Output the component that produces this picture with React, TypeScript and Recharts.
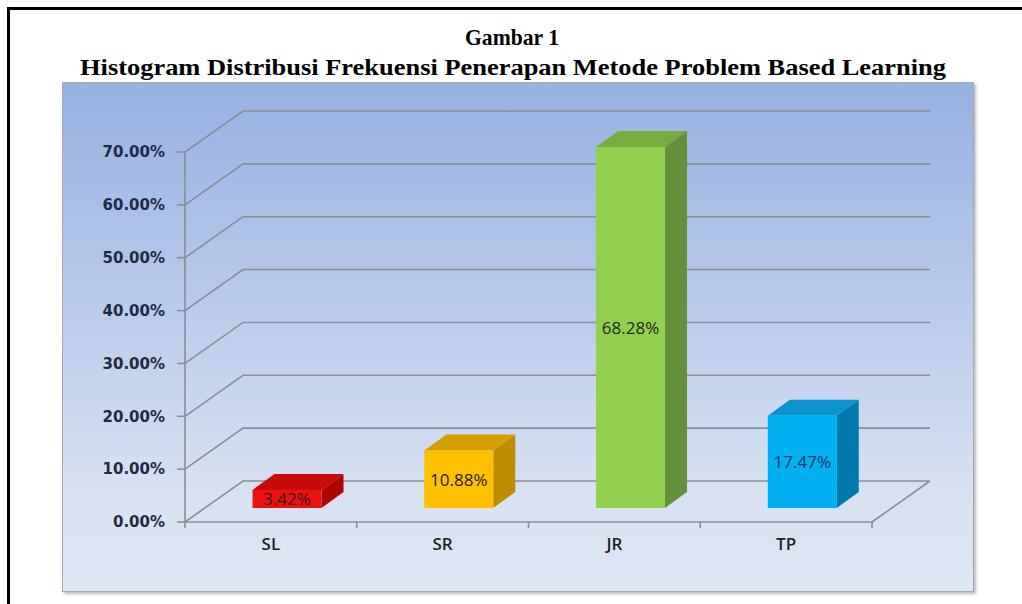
import { Bar, BarChart, CartesianGrid, LabelList, XAxis, YAxis } from "recharts";

const categories = ["SL", "SR", "JR", "TP"];
const percentages = [3.42, 10.88, 68.28, 17.47];
const yTicks = [0, 10, 20, 30, 40, 50, 60, 70];

const titleLine1 = "Gambar 1";
const titleLine2 = "Histogram Distribusi Frekuensi Penerapan Metode Problem Based Learning";

const data = categories.map((cat, i) => ({ cat, value: percentages[i] }));

// 3d look
const WALL_DX = 58;
const WALL_DY = -41;
const BAR_SHIFT_X = 16;
const BAR_SHIFT_Y = -14;
const BAR_DX = 22;
const BAR_DY = -16;

const frontColors = ["#E8130F", "#FFC000", "#92D050", "#00B0F0"];
const topColors = ["#C80A0A", "#D4A000", "#78AC40", "#0A93CC"];
const sideColors = ["#B00404", "#BE8E00", "#64913A", "#0079AC"];
const labelColors = ["#4a0c0c", "#1f1f1f", "#1f2a1a", "#1F3864"];

const GRID = "#8C8E94";

function Bar3D(props: any) {
    const { x, y, width: w, height: h, index } = props;
    if (w == null || h == null) return null;
    const fx = x + BAR_SHIFT_X;
    const fy = y + BAR_SHIFT_Y;
    return (
        <g>
            <polygon
                points={`${fx},${fy} ${fx + BAR_DX},${fy + BAR_DY} ${fx + w + BAR_DX},${fy + BAR_DY} ${fx + w},${fy}`}
                fill={topColors[index]} />
            <polygon
                points={`${fx + w},${fy} ${fx + w + BAR_DX},${fy + BAR_DY} ${fx + w + BAR_DX},${fy + h + BAR_DY} ${fx + w},${fy + h}`}
                fill={sideColors[index]} />
            <rect x={fx} y={fy} width={w} height={h} fill={frontColors[index]} />
        </g>
    );
}

function BarLabel(props: any) {
    const { x, y, width, height, value, index } = props;
    return (
        <text
            x={x + width / 2 + BAR_SHIFT_X}
            y={y + height / 2 + BAR_SHIFT_Y}
            textAnchor="middle"
            dominantBaseline="central"
            fontFamily="'Open Sans', sans-serif"
            fontSize={17}
            fill={labelColors[index]}>
            {value.toFixed(2)}%
        </text>
    );
}

function WallLine(props: any) {
    const { x1, y1, x2, index } = props;
    const bottom = props.y != null && props.height != null ? props.y + props.height : null;
    const isFloor = bottom != null ? Math.abs(y1 - bottom) < 1 : index === 0;
    let d = `M${x1},${y1} L${x1 + WALL_DX},${y1 + WALL_DY} L${x2 + WALL_DX},${y1 + WALL_DY}`;
    if (isFloor) d += ` M${x2},${y1} L${x2 + WALL_DX},${y1 + WALL_DY}`;
    return <path key={`wall-${index}`} d={d} fill="none" stroke={GRID} strokeWidth={1.6} />;
}

function CategoryTick(props: any) {
    const { x, y, payload, index } = props;
    const half = payload.offset || 0;
    const axisY = y - 18;
    return (
        <g>
            <text
                x={x}
                y={y - 2}
                dy="0.71em"
                textAnchor="middle"
                fontFamily="'Open Sans', sans-serif"
                fontWeight={600}
                fontSize={17}
                fill="#1f1f1f">
                {payload.value}
            </text>
            {index === 0 && (
                <line x1={x - half} x2={x - half} y1={axisY} y2={axisY + 6} stroke={GRID} strokeWidth={1.6} />
            )}
            <line x1={x + half} x2={x + half} y1={axisY} y2={axisY + 6} stroke={GRID} strokeWidth={1.6} />
        </g>
    );
}

export default function App() {
    return (
        <div style={{ position: "absolute", left: 0, top: 0, width: 1022, height: 604, background: "#fff", overflow: "hidden" }}>
            <div style={{ position: "absolute", left: 7, top: 7, width: 1015, height: 3, background: "#000" }} />
            <div style={{ position: "absolute", left: 7, top: 7, width: 3, height: 597, background: "#000" }} />
            <div style={{
                position: "absolute", left: 62, top: 82, width: 910, height: 508,
                border: "1px solid #a4a8b0",
                background: "linear-gradient(to bottom, #96B2E1 0%, #BACBEB 45%, #D8E1F2 80%, #DFE6F4 100%)",
                boxShadow: "2px 2px 3px rgba(0,0,0,0.28)"
            }} />
            <svg width={1022} height={100} style={{ position: "absolute", left: 0, top: 0 }}>
                <text x={512} y={45} textAnchor="middle" fontFamily="'Liberation Serif', serif" fontWeight="bold" fontSize={23}
                    textLength={94} lengthAdjust="spacingAndGlyphs" fill="#000">
                    {titleLine1}
                </text>
                <text x={513} y={75} textAnchor="middle" fontFamily="'Liberation Serif', serif" fontWeight="bold" fontSize={23.5}
                    textLength={866} lengthAdjust="spacingAndGlyphs" fill="#000">
                    {titleLine2}
                </text>
            </svg>
            <div style={{ position: "absolute", left: 0, top: 0 }}>
                <BarChart
                    width={1022}
                    height={604}
                    data={data}
                    margin={{ top: 152, right: 150, bottom: 52, left: 105 }}
                    barCategoryGap="30%">
                    <CartesianGrid vertical={false} horizontal={WallLine} />
                    <XAxis
                        dataKey="cat"
                        height={30}
                        axisLine={{ stroke: GRID, strokeWidth: 1.6 }}
                        tickLine={false}
                        tickSize={6}
                        tickMargin={12}
                        tick={CategoryTick}
                        interval={0} />
                    <YAxis
                        width={80}
                        domain={[0, 70]}
                        ticks={yTicks}
                        interval={0}
                        tickFormatter={(v: number) => `${v.toFixed(2)}%`}
                        axisLine={{ stroke: GRID, strokeWidth: 1.6 }}
                        tickLine={{ stroke: GRID, strokeWidth: 1.6 }}
                        tickSize={8}
                        tickMargin={12}
                        tick={{ fill: "#1F2A44", fontSize: 15, fontWeight: "bold", fontFamily: "'DejaVu Sans', sans-serif" }} />
                    <Bar dataKey="value" shape={Bar3D} isAnimationActive={false}>
                        <LabelList dataKey="value" content={BarLabel} />
                    </Bar>
                </BarChart>
            </div>
        </div>
    );
}
